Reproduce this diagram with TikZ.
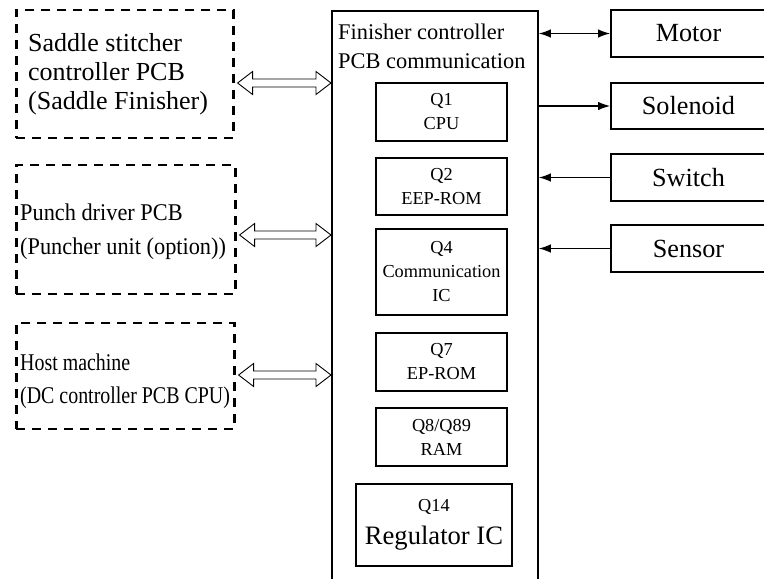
\documentclass[tikz,border=0pt]{standalone}
\usepackage{fontspec}
\setmainfont{Liberation Serif}
\newfontfamily\punchfont[FakeStretch=0.93]{Liberation Serif}
\newfontfamily\hostfont[FakeStretch=0.83]{Liberation Serif}
\usetikzlibrary{arrows.meta,calc}

\begin{document}
\begin{tikzpicture}[x=1pt, y=-1pt,
    >={Latex[length=12pt,width=8.5pt]},
    ext/.style={draw, line width=2.6pt, dash pattern=on 9pt off 7pt, anchor=west},
    extlbl/.style={anchor=west, align=left, inner sep=0pt},
    chip/.style={draw, line width=1.2pt, minimum width=131pt, align=center,
                 font=\fontsize{18.3}{24}\selectfont},
    dev/.style={draw, line width=1.8pt, minimum width=155pt, minimum height=47pt,
                font=\fontsize{26.2}{30}\selectfont},
    sig/.style={line width=1.3pt, ->},
    bus/.style={line width=0.9pt, to path={let \p1=(\tikztostart), \p2=(\tikztotarget) in
      (\x1,\y1) -- (\x1+15pt,\y1+11.5pt) -- (\x1+15pt,\y1+4pt) -- (\x2-15pt,\y1+4pt)
      -- (\x2-15pt,\y1+11.5pt) -- (\x2,\y1) -- (\x2-15pt,\y1-11.5pt) -- (\x2-15pt,\y1-4pt)
      -- (\x1+15pt,\y1-4pt) -- (\x1+15pt,\y1-11.5pt) -- cycle}},
  ]
  \useasboundingbox (0,0) rectangle (764,579);
  % outside units
  \node[ext, minimum width=217pt, minimum height=128pt] (ssc) at (15,74) {};
  \node[extlbl, font=\fontsize{26}{29}\selectfont] (ssct) at (28,74)
        {Saddle stitcher\\controller PCB\\(Saddle Finisher)};
  \node[ext, minimum width=219pt, minimum height=129pt] (pdp) at (15,229.5) {};
  \node[extlbl, font=\punchfont\fontsize{24}{34}\selectfont] (pdpt) at (20,232)
        {Punch driver PCB\\(Puncher unit (option))};
  \node[ext, minimum width=218pt, minimum height=106pt] (host) at (15,376) {};
  \node[extlbl, font=\hostfont\fontsize{24}{33}\selectfont] (hostt) at (20,381)
        {Host machine\\(DC controller PCB CPU)};
  % finisher controller PCB
  \node[draw, line width=1.8pt, anchor=north west, minimum width=206pt,
        minimum height=620pt] (fc) at (331,10) {};
  \node[anchor=north west, inner sep=0pt, align=left,
        font=\fontsize{22.4}{29}\selectfont] (fct) at (338,24)
        {Finisher controller\\PCB communication};
  \node[chip, minimum height=58pt] (q1) at (441.5,112) {Q1\\CPU};
  \node[chip, minimum height=57pt] (q2) at (441.5,186.5) {Q2\\EEP-ROM};
  \node[chip, minimum height=86pt] (q4) at (441.5,272) {Q4\\Communication\\IC};
  \node[chip, minimum height=58pt] (q7) at (441.5,362) {Q7\\EP-ROM};
  \node[chip, minimum height=58pt] (q8) at (441.5,437) {Q8/Q89\\RAM};
  \node[chip, minimum width=156pt, minimum height=82pt] (q14) at (434,525)
        {Q14\\[9pt]{\fontsize{26.6}{32}\selectfont Regulator IC}};
  % loads and inputs
  \node[dev] (motor) at (688.5,33.5) {Motor};
  \node[dev, minimum height=46pt] (sol) at (688.5,106) {Solenoid};
  \node[dev] (sw) at (688.5,177.5) {Switch};
  \node[dev] (sen) at (688.5,248.5) {Sensor};
  \draw[sig, <->] (fc.east |- motor) -- (motor);
  \draw[sig] (fc.east |- sol) -- (sol);
  \draw[sig] (sw) -- (fc.east |- sw);
  \draw[sig] (sen) -- (fc.east |- sen);
  % communication lines
  \draw[bus] ([shift={(3pt,-9pt)}]ssc.east) to ([yshift=-9pt]ssc.east -| fc.west);
  \draw[bus] ([shift={(3pt,-5.5pt)}]pdp.east) to ([yshift=-5.5pt]pdp.east -| fc.west);
  \draw[bus] ([shift={(3pt,1pt)}]host.east) to ([yshift=1pt]host.east -| fc.west);
\end{tikzpicture}
\end{document}
